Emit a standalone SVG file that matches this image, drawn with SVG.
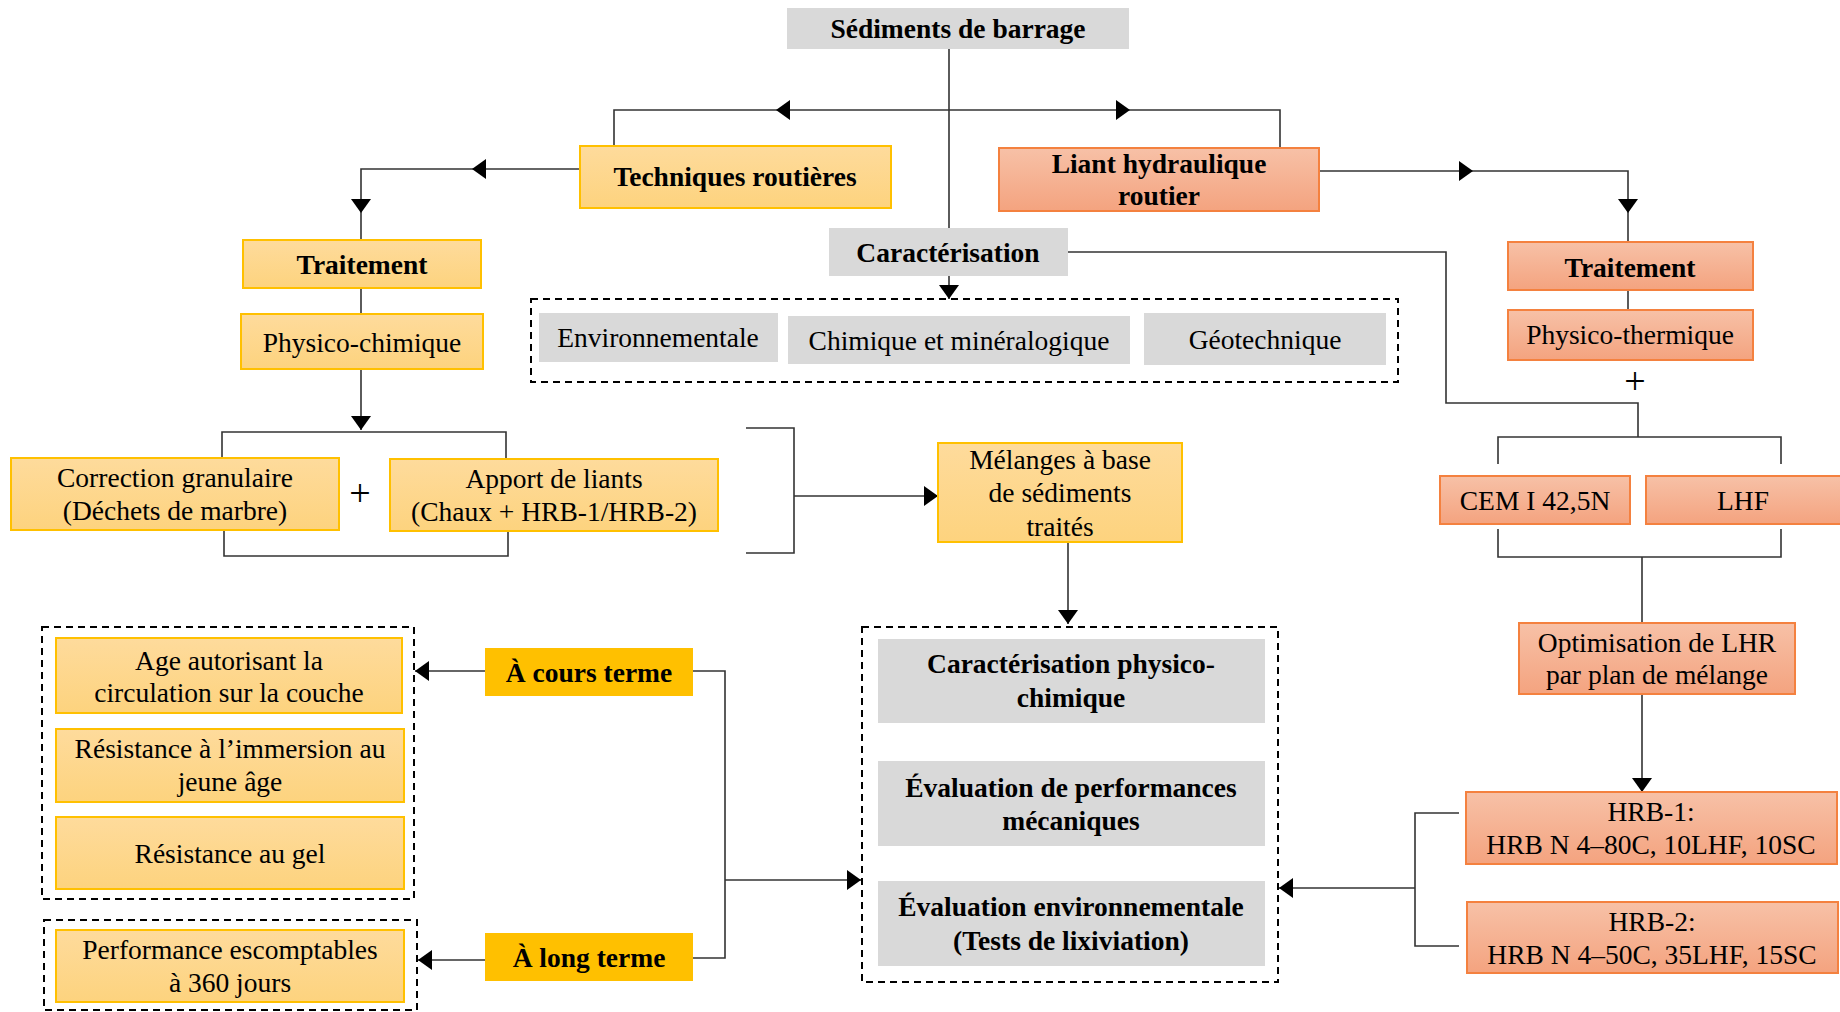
<svg xmlns="http://www.w3.org/2000/svg" width="1840" height="1012" viewBox="0 0 1840 1012">
<defs>
<linearGradient id="gy" x1="0" y1="0" x2="0" y2="1"><stop offset="0" stop-color="#fedb9c"/><stop offset="1" stop-color="#fdd37e"/></linearGradient>
<linearGradient id="gs" x1="0" y1="0" x2="0" y2="1"><stop offset="0" stop-color="#f7c1a7"/><stop offset="1" stop-color="#f4a37f"/></linearGradient>
<marker id="ah" viewBox="0 0 14 20" refX="14" refY="10" markerWidth="14" markerHeight="20" markerUnits="userSpaceOnUse" orient="auto"><path d="M0,0 L14,10 L0,20 z" fill="#000"/></marker>
<style>
text{font-family:"Liberation Serif","Times New Roman",serif;font-size:27.5px;fill:#000;text-anchor:middle}
.b{font-weight:bold}
.p{font-size:38px}
.y{fill:url(#gy);stroke:#ffc000;stroke-width:2}
.s{fill:url(#gs);stroke:#f4813f;stroke-width:2}
.g{fill:#d9d9d9}
.o{fill:#ffc000}
.d{fill:none;stroke:#000;stroke-width:2;stroke-dasharray:7 5}
.c path{fill:none;stroke:#333;stroke-width:1.6}
.a{marker-end:url(#ah)}
</style>
</defs>
<rect width="1840" height="1012" fill="#fff"/>

<g id="connectors" class="c">
<path d="M949,49 V228"/>
<path class="a" d="M949,110 H776"/>
<path d="M776,110 H614 V146"/>
<path class="a" d="M949,110 H1130"/>
<path d="M1130,110 H1280 V148"/>
<path class="a" d="M580,169 H472"/>
<path class="a" d="M472,169 H361 V213"/>
<path d="M361,213 V240"/>
<path d="M361,288 V314"/>
<path class="a" d="M361,369 V430"/>
<path d="M222,458 V432 H506 V459"/>
<path d="M224,530 V556 H508 V531"/>
<path d="M746,428 H794 V553 H746"/>
<path class="a" d="M794,496 H938"/>
<path class="a" d="M1068,542 V624"/>
<path class="a" d="M949,276 V299"/>
<path class="a" d="M1319,171 H1473"/>
<path class="a" d="M1473,171 H1628 V213"/>
<path d="M1628,213 V242"/>
<path d="M1628,290 V310"/>
<path d="M1068,252 H1446 V403 H1638 V437"/>
<path d="M1498,464 V437 H1781 V464"/>
<path d="M1498,529 V557 H1781 V529"/>
<path d="M1642,557 V622"/>
<path class="a" d="M1642,694 V792"/>
<path d="M1459,813 H1415 V946 H1459"/>
<path class="a" d="M1415,888 H1279"/>
<path class="a" d="M485,671 H415"/>
<path class="a" d="M485,960 H418"/>
<path d="M693,671 H725 V958 H693"/>
<path class="a" d="M725,880 H861"/>
</g>

<g id="sediments"><rect class="g" x="787" y="8" width="342" height="41"/><text class="b" x="958" y="38">Sédiments de barrage</text></g>
<g id="techniques"><rect class="y" x="580" y="146" width="311" height="62"/><text class="b" x="735" y="186">Techniques routières</text></g>
<g id="liant"><rect class="s" x="999" y="148" width="320" height="63"/><text class="b" x="1159" y="173">Liant hydraulique</text><text class="b" x="1159" y="205">routier</text></g>
<g id="traitement-l"><rect class="y" x="243" y="240" width="238" height="48"/><text class="b" x="362" y="274">Traitement</text></g>
<g id="physico-chimique"><rect class="y" x="241" y="314" width="242" height="55"/><text x="362" y="352">Physico-chimique</text></g>
<g id="caracterisation"><rect class="g" x="829" y="228" width="239" height="48"/><text class="b" x="948" y="262">Caractérisation</text></g>
<g id="carac-group"><rect class="d" x="531" y="299" width="867" height="83"/>
<rect class="g" x="539" y="313" width="239" height="49"/><text x="658" y="347">Environnementale</text>
<rect class="g" x="788" y="316" width="342" height="48"/><text x="959" y="350">Chimique et minéralogique</text>
<rect class="g" x="1144" y="313" width="242" height="52"/><text x="1265" y="349">Géotechnique</text></g>
<g id="traitement-r"><rect class="s" x="1508" y="242" width="245" height="48"/><text class="b" x="1630" y="277">Traitement</text></g>
<g id="physico-thermique"><rect class="s" x="1508" y="310" width="245" height="50"/><text x="1630" y="344">Physico-thermique</text></g>
<g id="plus-r"><text class="p" x="1635" y="394">+</text></g>
<g id="cem"><rect class="s" x="1440" y="476" width="190" height="48"/><text x="1535" y="510">CEM I 42,5N</text></g>
<g id="lhf"><rect class="s" x="1646" y="476" width="196" height="48"/><text x="1743" y="510">LHF</text></g>
<g id="correction"><rect class="y" x="11" y="458" width="328" height="72"/><text x="175" y="487">Correction granulaire</text><text x="175" y="520">(Déchets de marbre)</text></g>
<g id="plus-l"><text class="p" x="360" y="506">+</text></g>
<g id="apport"><rect class="y" x="390" y="459" width="328" height="72"/><text x="554" y="488">Apport de liants</text><text x="554" y="521">(Chaux + HRB-1/HRB-2)</text></g>
<g id="melanges"><rect class="y" x="938" y="443" width="244" height="99"/><text x="1060" y="469">Mélanges à base</text><text x="1060" y="502">de sédiments</text><text x="1060" y="536">traités</text></g>
<g id="court-group"><rect class="d" x="42" y="627" width="372" height="272"/>
<rect class="y" x="56" y="638" width="346" height="75"/><text x="229" y="670">Age autorisant la</text><text x="229" y="702">circulation sur la couche</text>
<rect class="y" x="56" y="729" width="348" height="73"/><text x="230" y="758">Résistance à l’immersion au</text><text x="230" y="791">jeune âge</text>
<rect class="y" x="56" y="817" width="348" height="72"/><text x="230" y="863">Résistance au gel</text></g>
<g id="long-group"><rect class="d" x="44" y="920" width="373" height="90"/>
<rect class="y" x="56" y="930" width="348" height="72"/><text x="230" y="959">Performance escomptables</text><text x="230" y="992">à 360 jours</text></g>
<g id="cours-terme"><rect class="o" x="485" y="648" width="208" height="48"/><text class="b" x="589" y="682">À cours terme</text></g>
<g id="long-terme"><rect class="o" x="485" y="933" width="208" height="48"/><text class="b" x="589" y="967">À long terme</text></g>
<g id="essais"><rect class="d" x="862" y="627" width="416" height="355"/>
<rect class="g" x="878" y="639" width="387" height="84"/><text class="b" x="1071" y="673">Caractérisation physico-</text><text class="b" x="1071" y="707">chimique</text>
<rect class="g" x="878" y="761" width="387" height="85"/><text class="b" x="1071" y="797">Évaluation de performances</text><text class="b" x="1071" y="830">mécaniques</text>
<rect class="g" x="878" y="881" width="387" height="85"/><text class="b" x="1071" y="916">Évaluation environnementale</text><text class="b" x="1071" y="950">(Tests de lixiviation)</text></g>
<g id="optimisation"><rect class="s" x="1519" y="623" width="276" height="71"/><text x="1657" y="652">Optimisation de LHR</text><text x="1657" y="684">par plan de mélange</text></g>
<g id="hrb1"><rect class="s" x="1466" y="792" width="371" height="72"/><text x="1651" y="821">HRB-1:</text><text x="1651" y="854">HRB N 4–80C, 10LHF, 10SC</text></g>
<g id="hrb2"><rect class="s" x="1467" y="902" width="371" height="71"/><text x="1652" y="931">HRB-2:</text><text x="1652" y="964">HRB N 4–50C, 35LHF, 15SC</text></g>
</svg>
